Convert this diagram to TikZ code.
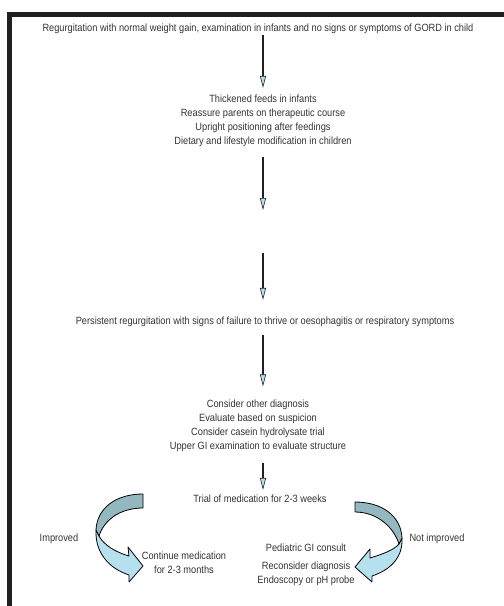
\documentclass[tikz,border=0pt]{standalone}
\usepackage{fontspec}
\setmainfont[FakeStretch=0.88]{Liberation Sans}
\usetikzlibrary{arrows.meta}
\definecolor{txtc}{HTML}{333333}
\definecolor{ribdark}{HTML}{94B8C0}
\definecolor{riblight}{HTML}{B7E0EE}
\definecolor{framec}{HTML}{231F20}
\begin{document}
\begin{tikzpicture}[x=1pt,y=-1pt,
  txt/.style={font=\fontsize{10.5}{14}\selectfont, text=txtc, inner sep=0pt, align=center},
  flow/.style={draw=framec, line width=1.8pt, -{Triangle[width=6pt,length=12pt,line width=0.6pt,fill=riblight]}},
  ribd/.style={fill=ribdark,draw=black,line width=0.8pt,line join=round},
  ribl/.style={fill=riblight,draw=black,line width=0.8pt,line join=round}]
\useasboundingbox (0,0) rectangle (504,606);
\fill[white] (0,0) rectangle (504,606);
\begin{scope}
\clip (0,0) rectangle (504,606);
\draw[framec, line width=5pt] (9.5,620) -- (9.5,14.5) -- (520,14.5);
\end{scope}

\node[txt] (n1) at (258,29) {Regurgitation with normal weight gain, examination in infants and no signs or symptoms of GORD in child};
\node[txt] (n2) at (263,121) {Thickened feeds in infants\\Reassure parents on therapeutic course\\Upright positioning after feedings\\Dietary and lifestyle modification in children};
\coordinate (c1) at (263,210);
\coordinate (c2) at (263,253);
\node[txt] (n3) at (265,322) {Persistent regurgitation with signs of failure to thrive or oesophagitis or respiratory symptoms};
\node[txt] (n4) at (258,425.5) {Consider other diagnosis\\Evaluate based on suspicion\\Consider casein hydrolysate trial\\Upper GI examination to evaluate structure};
\node[txt] (n5) at (260,499) {Trial of medication for 2-3 weeks};
\node[txt] (imp) at (59,539) {Improved};
\node[txt] (cont) at (184,563) {Continue medication\\for 2-3 months};
\node[txt] (nimp) at (437,539) {Not improved};
\node[txt] (ped) at (306,565) {Pediatric GI consult\\[4pt]Reconsider diagnosis\\Endoscopy or pH probe};

\draw[flow, shorten <=1pt, shorten >=7pt] (n1.south -| c1) -- (n2.north -| c1);
\draw[flow, shorten <=10pt] (n2.south -| c1) -- (c1);
\draw[flow, shorten >=17pt] (c2) -- (n3.north -| c2);
\draw[flow, shorten <=8pt, shorten >=13pt] (n3.south -| c1) -- (n4.north -| c1);
\draw[flow, shorten <=11pt, shorten >=5pt] (n4.south -| c1) -- (n5.north -| c1);

% left curved arrow
\draw[ribl] (96,530) .. controls (95,552) and (108,568) .. (129,575) -- (129,582) -- (143,566) -- (128,547) -- (129,556) .. controls (115,552) and (104,545) .. (99,536) -- cycle;
\draw[ribd] (143,494) .. controls (116,494) and (97,508) .. (96,530) -- (99,536) .. controls (104,520) and (120,508) .. (143,508) -- cycle;
% right curved arrow
\draw[ribl] (402,538) .. controls (403,558) and (390,570) .. (372,576) -- (372,582) -- (355,567) -- (370,549) -- (370,558) .. controls (383,554) and (394,550) .. (399,544) -- cycle;
\draw[ribd] (355,502) .. controls (382,502) and (401,516) .. (402,538) -- (399,544) .. controls (394,528) and (378,512) .. (355,512) -- cycle;
\end{tikzpicture}
\end{document}
